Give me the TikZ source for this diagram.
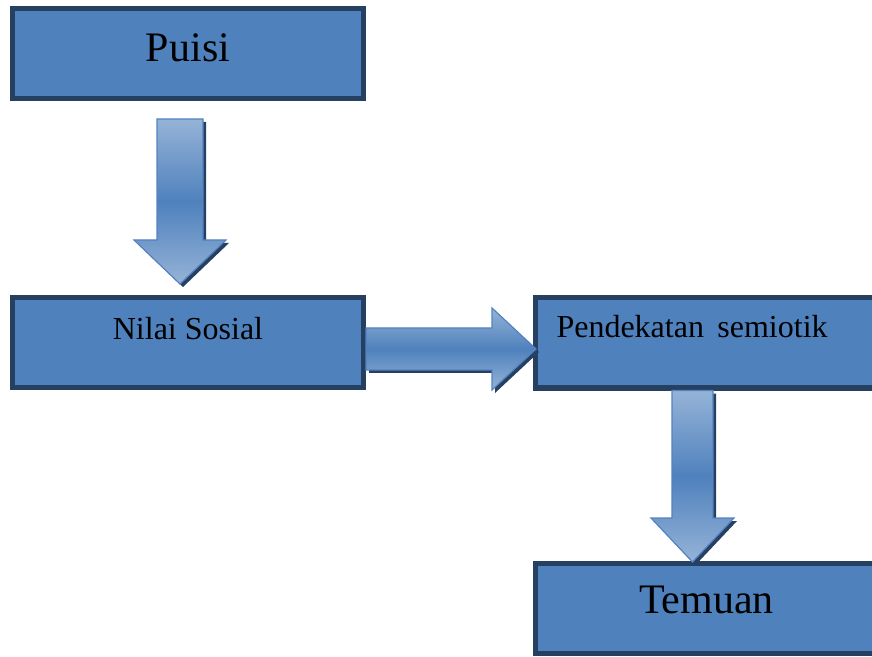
\documentclass[tikz,border=0pt]{standalone}
\usepackage{fontspec}
\setmainfont{Liberation Serif}
\usetikzlibrary{calc,positioning,shadows}
\definecolor{boxblue}{RGB}{79,129,189}
\definecolor{boxnavy}{RGB}{38,64,98}
\definecolor{arrowlight}{RGB}{149,179,215}
\definecolor{arrowedge}{RGB}{84,130,192}

\begin{document}
\begin{tikzpicture}[x=0.5pt,y=-0.5pt]
        \tikzstyle{stage}=[rectangle, draw=boxnavy, fill=boxblue, line width=2.5pt, inner sep=0pt, minimum height=45pt]
        \tikzstyle{flow}=[draw=arrowedge, line width=0.6pt, top color=arrowlight, bottom color=arrowlight, middle color=boxblue, drop shadow={shadow xshift=1.5pt, shadow yshift=-1.5pt, fill=boxnavy, opacity=1}]
        \useasboundingbox (0,0) rectangle (872,657);
        % boxes of the flow
        \node (puisi)[stage, minimum width=175.5pt, font=\fontsize{21}{25}\selectfont, text height=15pt, text depth=6.5pt] at (188,53.5) {Puisi};
        \node (nilai)[stage, minimum width=175.5pt, font=\fontsize{16}{19}\selectfont, text height=11pt, text depth=13.5pt] at (188,342.5) {Nilai Sosial};
        \node (pendekatan)[stage, minimum width=171pt, inner xsep=10.5pt, text width=150pt, align=left, font=\fontsize{16}{19}\selectfont, text height=11pt, text depth=16pt] at (706.5,343) {Pendekatan\hspace{0.42em}semiotik};
        \node (temuan)[stage, minimum width=171pt, font=\fontsize{21}{25}\selectfont, text height=15pt, text depth=10.5pt] at (706.5,608.5) {Temuan};
        % Puisi -> Nilai Sosial
        \coordinate (a1top) at ($(puisi.south)+(-8,18)$);
        \coordinate (a1tip) at ($(nilai.north)+(-8,-11)$);
        \draw[flow] ($(a1top)+(-23,0)$) -- ($(a1top)+(23,0)$) -- ($(a1tip)+(23,-44)$) -- ($(a1tip)+(46,-44)$)
            -- (a1tip) -- ($(a1tip)+(-46,-44)$) -- ($(a1tip)+(-23,-44)$) -- cycle;
        % Nilai Sosial -> Pendekatan semiotik
        \coordinate (a2start) at ($(nilai.east)+(0,6.5)$);
        \coordinate (a2tip) at ($(pendekatan.west)+(3,6)$);
        \draw[flow] ($(a2start)+(0,-21)$) -- ($(a2tip)+(-44,-21)$) -- ($(a2tip)+(-44,-41)$) -- (a2tip)
            -- ($(a2tip)+(-44,41)$) -- ($(a2tip)+(-44,21)$) -- ($(a2start)+(0,21)$) -- cycle;
        % Pendekatan semiotik -> Temuan
        \coordinate (a3top) at ($(pendekatan.south)+(-14,0)$);
        \coordinate (a3tip) at ($(temuan.north)+(-14,1)$);
        \draw[flow] ($(a3top)+(-20.5,0)$) -- ($(a3top)+(20.5,0)$) -- ($(a3tip)+(20.5,-44)$) -- ($(a3tip)+(41.5,-44)$)
            -- (a3tip) -- ($(a3tip)+(-41.5,-44)$) -- ($(a3tip)+(-20.5,-44)$) -- cycle;
\end{tikzpicture}
\end{document}
